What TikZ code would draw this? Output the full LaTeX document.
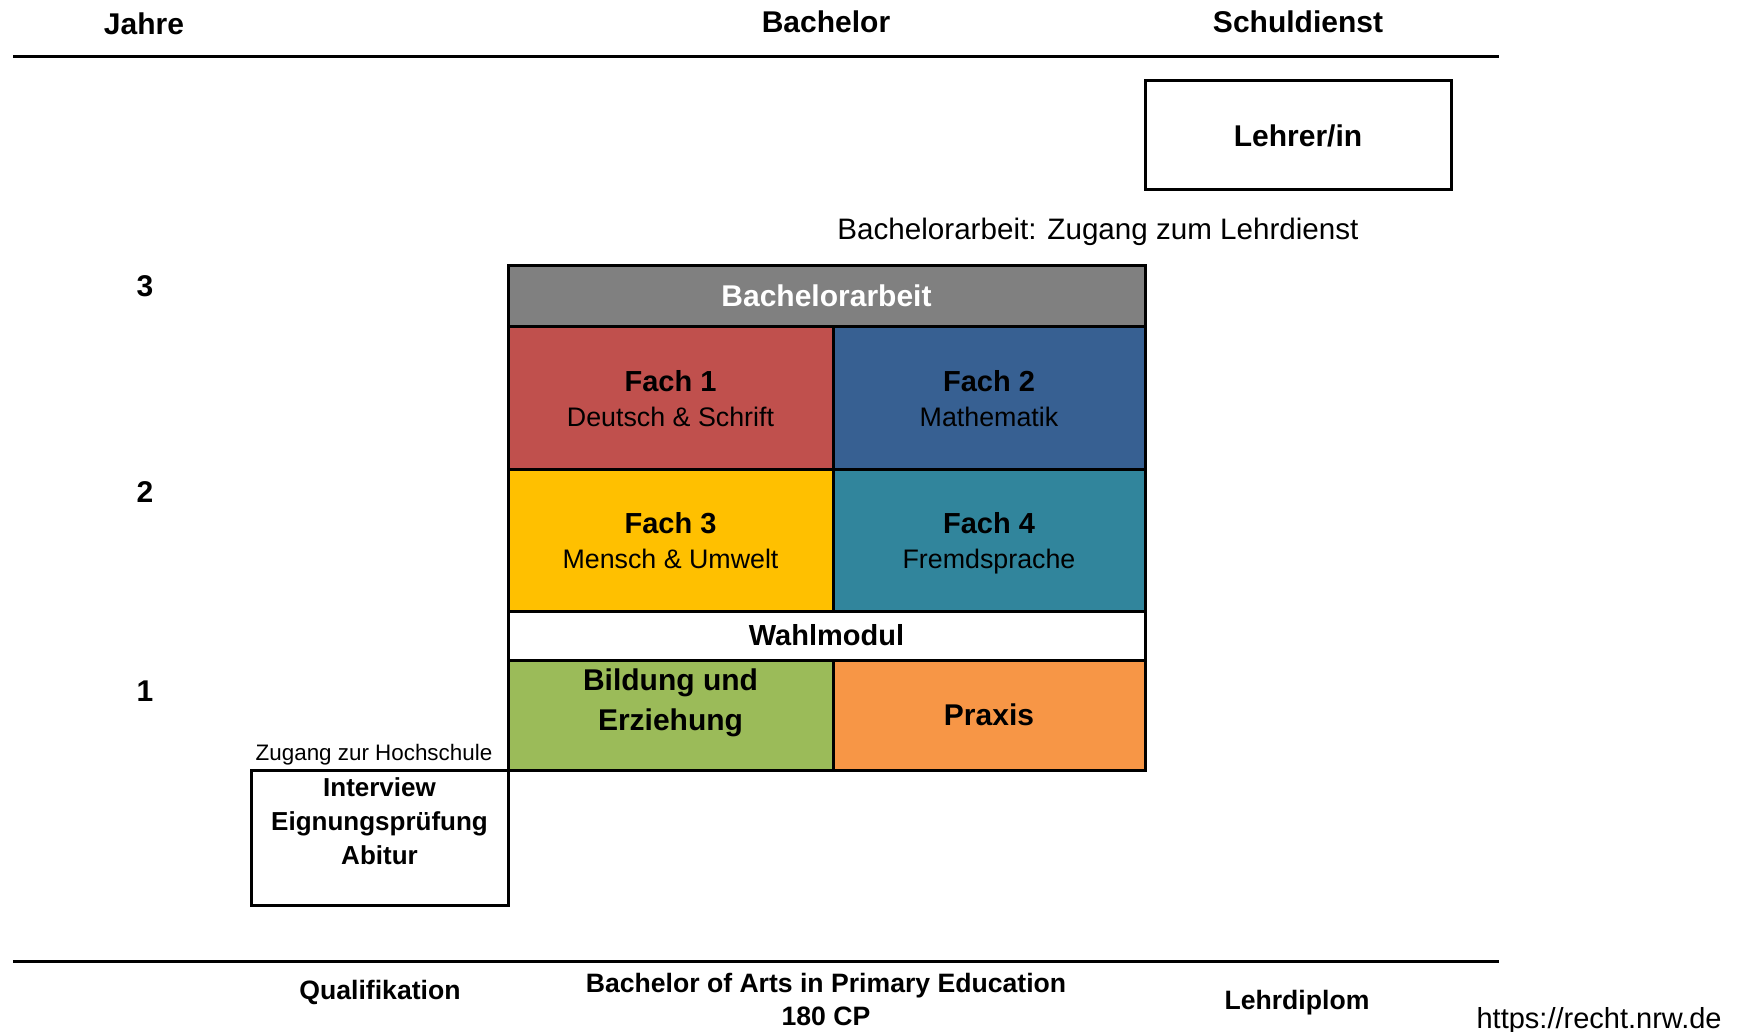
\documentclass[tikz,border=0pt]{standalone}
\usepackage{fontspec}
\setmainfont{Liberation Sans}
\definecolor{cellgray}{HTML}{808080}
\definecolor{cellred}{HTML}{C0504D}
\definecolor{cellblue}{HTML}{376092}
\definecolor{cellyellow}{HTML}{FFC000}
\definecolor{cellteal}{HTML}{31859C}
\definecolor{cellgreen}{HTML}{9BBB59}
\definecolor{cellorange}{HTML}{F79646}
\newcommand{\fs}[2]{\fontsize{#1}{#2}\selectfont}
\tikzset{
  cell/.style={draw=black, line width=1.5pt, rectangle, inner sep=0pt, align=center},
  subject/.style={cell, font=\fs{13.4}{17.7}},
  head/.style={font=\fs{15}{18}\bfseries, inner sep=0pt},
  foot/.style={font=\fs{13.3}{16.5}\bfseries, inner sep=0pt, align=center},
  year/.style={font=\fs{15}{18}\bfseries, inner sep=0pt},
  rule/.style={line width=1.5pt},
}
\begin{document}
\begin{tikzpicture}[x=0.5pt,y=-0.5pt]
\useasboundingbox (0,0) rectangle (1737,1032);

% column headers and rules
\node[head] (hjahre) at (144,24) {Jahre};
\node[head] (hbach) at (826,22) {Bachelor};
\node[head] (hschul) at (1298,22) {Schuldienst};
\coordinate (tl) at (13,56.5);
\coordinate (tr) at (1499,56.5);
\draw[rule] (tl) -- (tr);
\coordinate (bl) at (13,961);
\coordinate (br) at (1499,961);
\draw[rule] (bl) -- (br);

% year marks
\node[year] (y3) at (145,286) {3};
\node[year] (y2) at (145,492) {2};
\node[year] (y1) at (145,691) {1};

% teacher box
\node[cell, minimum width=153pt, minimum height=54.5pt, font=\fs{15}{18}\bfseries] (lehrer) at (1298,135.5) {Lehrer/in};
\node[font=\fs{14.8}{18}, inner sep=0pt] (zugang) at (1098,232) {Bachelorarbeit: Zugang zum Lehrdienst};

% study programme grid (subtitles carry no depth so all cells centre alike)
\node[cell, fill=cellgray, text=white, minimum width=318.5pt, minimum height=30.5pt, font=\fs{15}{18}\bfseries] (ba) at (826.5,296.5) {\raisebox{1pt}{Bachelorarbeit}};
\node[subject, fill=cellred, minimum width=162.5pt, minimum height=71.5pt] (f1) at (670.5,398.5)
  {{\fs{14.5}{17.7}\bfseries Fach 1}\\\smash{Deutsch \& Schrift}};
\node[subject, fill=cellblue, minimum width=156pt, minimum height=71.5pt] (f2) at (989,398.5)
  {{\fs{14.5}{17.7}\bfseries Fach 2}\\\smash{Mathematik}};
\node[subject, fill=cellyellow, minimum width=162.5pt, minimum height=70.5pt] (f3) at (670.5,540.5)
  {{\fs{14.5}{17.7}\bfseries Fach 3}\\\smash{Mensch \& Umwelt}};
\node[subject, fill=cellteal, minimum width=156pt, minimum height=70.5pt] (f4) at (989,540.5)
  {{\fs{14.5}{17.7}\bfseries Fach 4}\\\smash{Fremdsprache}};
\node[cell, fill=white, minimum width=318.5pt, minimum height=24.5pt, font=\fs{14.5}{17}\bfseries] (wahl) at (826.5,635.5) {Wahlmodul};
\node[cell, fill=cellgreen, minimum width=162.5pt, minimum height=55pt] (bild) at (670.5,715) {};
\node[font=\fs{15}{20}\bfseries, align=center, inner sep=0pt] (bildtext) at ([yshift=6pt]bild.center) {Bildung und\\Erziehung};
\node[cell, fill=cellorange, minimum width=156pt, minimum height=55pt, font=\fs{15}{18}\bfseries] (praxis) at (989,715) {Praxis};

% admission box
\node[font=\fs{11.2}{13}, inner sep=0pt] (hoch) at (374,755) {Zugang zur Hochschule};
\node[cell, minimum width=128.5pt, minimum height=67.5pt] (qual) at (379.5,837.5) {};
\node[font=\fs{13}{17}\bfseries, align=center, inner sep=0pt, anchor=north] (qualtext) at ([yshift=-4.5pt]qual.north)
  {Interview\\Eignungsprüfung\\Abitur};

% footer
\node[foot] (fqual) at (380,992) {Qualifikation};
\node[foot] (fbach) at (826,999) {Bachelor of Arts in Primary Education\\180 CP};
\node[foot] (fdipl) at (1297,1003) {Lehrdiplom};
\node[font=\fs{14.5}{17}, inner sep=0pt, anchor=east] (url) at (1722,1021) {https://recht.nrw.de};
\end{tikzpicture}
\end{document}
